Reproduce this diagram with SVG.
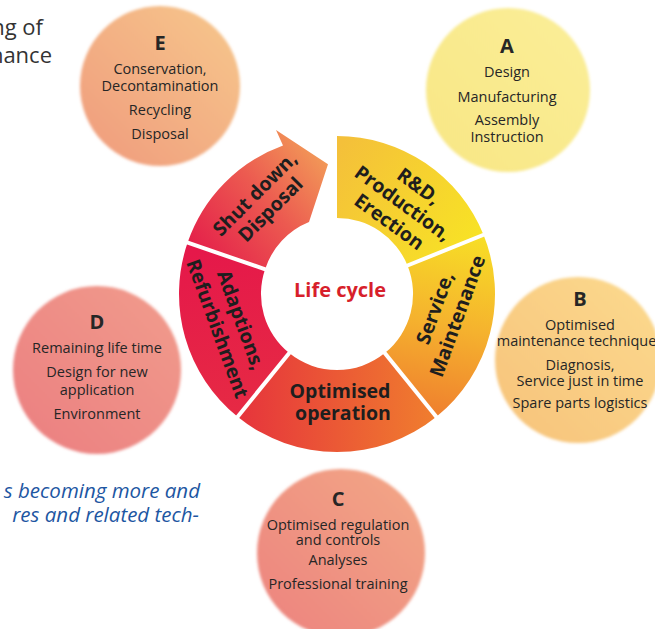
<svg xmlns="http://www.w3.org/2000/svg" width="655" height="629" viewBox="0 0 655 629">
<defs>
<style>
.body{font-family:"Open Sans","Liberation Sans",sans-serif;font-size:14.5px;fill:#262626;text-anchor:middle}
.let{font-family:"Open Sans","Liberation Sans",sans-serif;font-size:20px;font-weight:bold;fill:#262626;text-anchor:middle}
.seg{font-family:"Open Sans","Liberation Sans",sans-serif;font-size:19.5px;font-weight:bold;fill:#1e1e1e;text-anchor:middle}
.sep{stroke:#ffffff;stroke-width:4;stroke-linecap:butt}
</style>
<filter id="soft" x="-10%" y="-10%" width="120%" height="120%"><feGaussianBlur stdDeviation="1.5"/></filter>
<linearGradient id="gE" x1="0" y1="1" x2="1" y2="0"><stop offset="0" stop-color="#f09a7c"/><stop offset="1" stop-color="#f6c88c"/></linearGradient>
<linearGradient id="gA" x1="0" y1="1" x2="1" y2="0"><stop offset="0" stop-color="#f8e684"/><stop offset="1" stop-color="#faee98"/></linearGradient>
<linearGradient id="gB" x1="0" y1="1" x2="1" y2="0"><stop offset="0" stop-color="#f7c27a"/><stop offset="1" stop-color="#fbda8e"/></linearGradient>
<linearGradient id="gC" x1="0" y1="1" x2="1" y2="0"><stop offset="0" stop-color="#ec827e"/><stop offset="1" stop-color="#f3a886"/></linearGradient>
<linearGradient id="gD" x1="0" y1="1" x2="1" y2="0"><stop offset="0" stop-color="#eb7e80"/><stop offset="1" stop-color="#f19c8c"/></linearGradient>
<linearGradient id="gRD" gradientUnits="userSpaceOnUse" x1="337" y1="150" x2="480" y2="250"><stop offset="0" stop-color="#f4c03a"/><stop offset="1" stop-color="#f8e424"/></linearGradient>
<linearGradient id="gSV" gradientUnits="userSpaceOnUse" x1="470" y1="235" x2="430" y2="417"><stop offset="0" stop-color="#f7de26"/><stop offset="0.5" stop-color="#f5b22e"/><stop offset="1" stop-color="#ef7e2e"/></linearGradient>
<linearGradient id="gOP" gradientUnits="userSpaceOnUse" x1="436" y1="390" x2="238" y2="390"><stop offset="0" stop-color="#f07e2e"/><stop offset="1" stop-color="#e6343c"/></linearGradient>
<linearGradient id="gAD" gradientUnits="userSpaceOnUse" x1="200" y1="250" x2="240" y2="417"><stop offset="0" stop-color="#e5184a"/><stop offset="1" stop-color="#e62a44"/></linearGradient>
<linearGradient id="gSD" gradientUnits="userSpaceOnUse" x1="195" y1="255" x2="320" y2="150"><stop offset="0" stop-color="#e41e4a"/><stop offset="0.55" stop-color="#ec5a50"/><stop offset="1" stop-color="#f29a58"/></linearGradient>
</defs>
<rect width="655" height="629" fill="#ffffff"/>

<g id="page-text">
<text x="43" y="35" style="font-family:'Open Sans','Liberation Sans',sans-serif;font-size:22px;fill:#333333;text-anchor:end">ng of</text>
<text x="52" y="63" style="font-family:'Open Sans','Liberation Sans',sans-serif;font-size:22px;fill:#333333;text-anchor:end">nance</text>
<text x="200" y="498" style="font-family:'Open Sans','Liberation Sans',sans-serif;font-size:20.5px;font-style:italic;fill:#1d56a2;text-anchor:end">s becoming more and</text>
<text x="199" y="522" style="font-family:'Open Sans','Liberation Sans',sans-serif;font-size:20.5px;font-style:italic;fill:#1d56a2;text-anchor:end">res and related tech-</text>
</g>

<g id="node-E">
<circle cx="160" cy="86" r="80" fill="url(#gE)" filter="url(#soft)"/>
<text class="let" x="160" y="50">E</text>
<text class="body" x="160" y="74">Conservation,</text>
<text class="body" x="160" y="91">Decontamination</text>
<text class="body" x="160" y="115">Recycling</text>
<text class="body" x="160" y="139">Disposal</text>
</g>

<g id="node-A">
<circle cx="508" cy="90" r="82" fill="url(#gA)" filter="url(#soft)"/>
<text class="let" x="507" y="53">A</text>
<text class="body" x="507" y="77">Design</text>
<text class="body" x="507" y="102">Manufacturing</text>
<text class="body" x="507" y="125">Assembly</text>
<text class="body" x="507" y="142">Instruction</text>
</g>

<g id="node-B">
<circle cx="578" cy="360" r="83" fill="url(#gB)" filter="url(#soft)"/>
<text class="let" x="580" y="306">B</text>
<text class="body" x="580" y="330">Optimised</text>
<text class="body" x="580" y="346">maintenance techniques</text>
<text class="body" x="580" y="370">Diagnosis,</text>
<text class="body" x="580" y="386">Service just in time</text>
<text class="body" x="580" y="408">Spare parts logistics</text>
</g>

<g id="node-C">
<circle cx="341" cy="553" r="84" fill="url(#gC)" filter="url(#soft)"/>
<text class="let" x="338" y="506">C</text>
<text class="body" x="338" y="530">Optimised regulation</text>
<text class="body" x="338" y="545">and controls</text>
<text class="body" x="338" y="565">Analyses</text>
<text class="body" x="338" y="589">Professional training</text>
</g>

<g id="node-D">
<circle cx="97" cy="370" r="84" fill="url(#gD)" filter="url(#soft)"/>
<text class="let" x="97" y="329">D</text>
<text class="body" x="97" y="353">Remaining life time</text>
<text class="body" x="97" y="377">Design for new</text>
<text class="body" x="97" y="395">application</text>
<text class="body" x="97" y="419">Environment</text>
</g>

<g id="seg-rd">
<path d="M337,136 A158,158 0 0 1 483.5,234.8 L407.5,265.5 A76,76 0 0 0 337,218 Z" fill="url(#gRD)"/>
<g transform="translate(403,203) rotate(36)">
<text class="seg" x="3" y="-16">R&amp;D,</text>
<text class="seg" x="0" y="7">Production,</text>
<text class="seg" x="0" y="30">Erection</text>
</g>
</g>

<g id="seg-service">
<path d="M483.5,234.8 A158,158 0 0 1 436.4,416.8 L384.8,353.1 A76,76 0 0 0 407.5,265.5 Z" fill="url(#gSV)"/>
<g transform="translate(446,312) rotate(-70)">
<text class="seg" x="0" y="-5">Service,</text>
<text class="seg" x="0" y="19">Maintenance</text>
</g>
</g>

<g id="seg-operation">
<path d="M436.4,416.8 A158,158 0 0 1 237.6,416.8 L289.2,353.1 A76,76 0 0 0 384.8,353.1 Z" fill="url(#gOP)"/>
<text class="seg" x="340" y="398">Optimised</text>
<text class="seg" x="343" y="420">operation</text>
</g>

<g id="seg-adaptions">
<path d="M237.6,416.8 A158,158 0 0 1 187.6,242.6 L265.1,269.3 A76,76 0 0 0 289.2,353.1 Z" fill="url(#gAD)"/>
<g transform="translate(229,324.5) rotate(70)">
<text class="seg" x="0" y="-6">Adaptions,</text>
<text class="seg" x="0" y="19">Refurbishment</text>
</g>
</g>

<g id="seg-shutdown">
<path d="M187.6,242.6 A158,158 0 0 1 283,145.5 L276,130 L328,164.3 L309,222 A76,76 0 0 0 265.1,269.3 Z" fill="url(#gSD)"/>
<g transform="translate(262.5,201.5) rotate(-45)">
<text class="seg" x="0" y="-4">Shut down,</text>
<text class="seg" x="0" y="18">Disposal</text>
</g>
</g>

<g id="connectors">
<line class="sep" x1="403.8" y1="267" x2="488" y2="233"/>
<line class="sep" x1="382.3" y1="350" x2="438.9" y2="420"/>
<line class="sep" x1="291.7" y1="350" x2="235" y2="420"/>
<line class="sep" x1="268.9" y1="270.6" x2="182.7" y2="240.9"/>
</g>

<g id="center">
<text x="340" y="297" style="font-family:'Open Sans','Liberation Sans',sans-serif;font-size:20px;font-weight:bold;fill:#d71f2b;text-anchor:middle">Life cycle</text>
</g>
</svg>
